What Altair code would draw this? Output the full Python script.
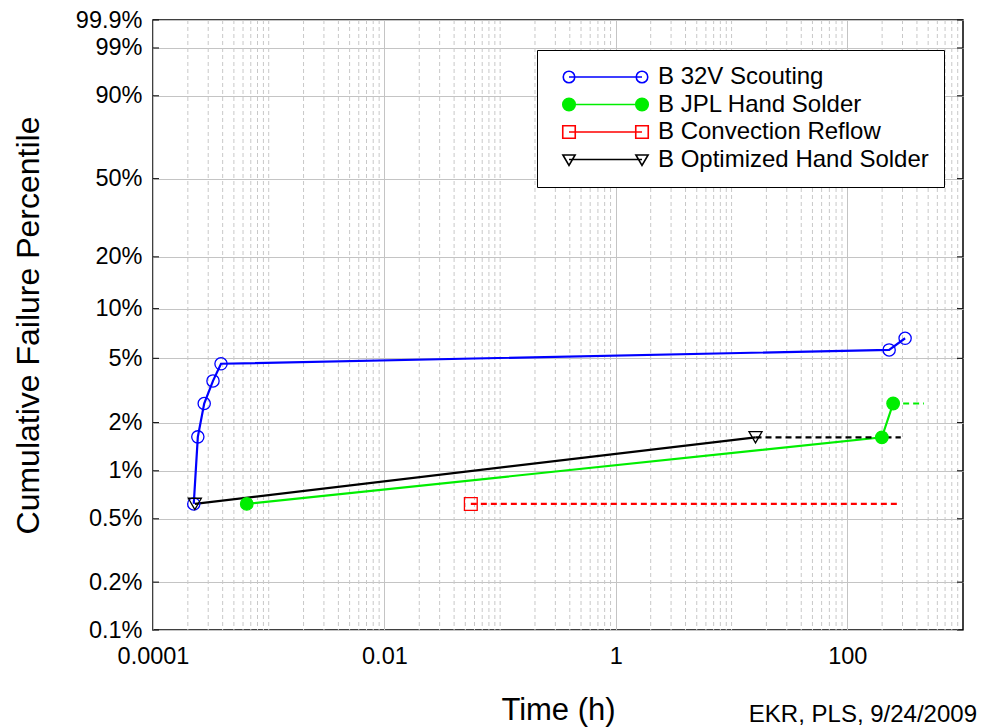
import altair as alt
import numpy as np
import pandas as pd

# ---------------- data ----------------
names = ["B 32V Scouting", "B JPL Hand Solder", "B Convection Reflow", "B Optimized Hand Solder"]
line_colors = ["#0000ff", "#00ee00", "#ff0000", "#000000"]
marker_fills = ["transparent", "#00ee00", "transparent", "transparent"]
marker_shapes = ["circle", "circle", "square", "triangle-down"]
marker_sizes = [150, 170, 170, 160]

# time (h) and cumulative failure percentile (%)
scout_t = [2.25e-4, 2.44e-4, 2.77e-4, 3.30e-4, 3.87e-4, 230, 316]
scout_F = [0.62, 1.63, 2.63, 3.63, 4.63, 5.63, 6.63]

jpl_t = [6.46e-4, 199, 249]
jpl_F = [0.62, 1.62, 2.63]
jpl_ext_t = [249, 460]
jpl_ext_F = [2.63, 2.63]

conv_t = [0.0558]
conv_F = [0.62]
conv_ext_t = [0.0558, 290]
conv_ext_F = [0.62, 0.62]

opt_t = [2.30e-4, 16.1]
opt_F = [0.62, 1.62]
opt_ext_t = [16.1, 290]
opt_ext_F = [1.62, 1.62]

# axes
x_tick_values = [1e-4, 1e-2, 1, 100]
x_domain = [1e-4, 1e3]
y_tick_pct = [0.1, 0.2, 0.5, 1, 2, 5, 10, 20, 50, 90, 99, 99.9]
y_domain_pct = [0.1, 99.9]
note_text = "EKR, PLS, 9/24/2009"

# ---------------- tables ----------------
def rows(name, ts, Fs, kind):
    return [{"series": name, "t": t, "F": f, "kind": kind} for t, f in zip(ts, Fs)]

records = []
records += rows(names[0], scout_t, scout_F, "solid")
records += rows(names[1], jpl_t, jpl_F, "solid")
records += rows(names[1], jpl_ext_t, jpl_ext_F, "dash")
records += rows(names[2], conv_t, conv_F, "solid")
records += rows(names[2], conv_ext_t, conv_ext_F, "dash")
records += rows(names[3], opt_t, opt_F, "solid")
records += rows(names[3], opt_ext_t, opt_ext_F, "dash")
df = pd.DataFrame(records)


def weib(p):
    return float(np.log(-np.log(1 - p / 100.0)))


y_tick_values = [weib(p) for p in y_tick_pct]
y_domain = [weib(p) for p in y_domain_pct]
ytick_df = pd.DataFrame({"W": y_tick_values})

# minor (dashed) x grid: 2..9 of every decade plus the unlabeled decades
minor = []
for k in range(-4, 3):
    for m in range(1, 10):
        v = m * 10.0 ** k
        if m == 1 and k % 2 == 0:
            continue
        minor.append(v)
grid_df = pd.DataFrame({"g": minor})

FONT = "Liberation Sans"
xscale = alt.Scale(type="log", domain=x_domain, nice=False)
yscale = alt.Scale(domain=y_domain, nice=False, zero=False)


def x_axis():
    return alt.Axis(
        values=x_tick_values,
        labelExpr="format(datum.value, '~g')",
        grid=True, gridColor="#c4c4c4", gridWidth=1,
        ticks=False, tickSize=0, domain=False,
        labelPadding=14, labelFontSize=23.5, labelFont=FONT, labelColor="black",
        labelFlush=False, labelOverlap=False,
        title="Time (h)", titleFont=FONT, titleFontSize=31, titleFontWeight="normal",
        titleColor="black", titleY=89, titleBaseline="alphabetic",
    )


def y_axis():
    return alt.Axis(
        values=y_tick_values,
        labelExpr="format(100*(1-exp(-exp(datum.value))), '.3~g') + '%'",
        grid=True, gridColor="#c4c4c4", gridWidth=1,
        ticks=False, tickSize=0, domain=False,
        labelPadding=11, labelFontSize=23.5, labelFont=FONT, labelColor="black",
        labelFlush=False, labelOverlap=False,
        title="Cumulative Failure Percentile", titleFont=FONT, titleFontSize=32,
        titleFontWeight="normal", titleColor="black",
        titleX=-115, titleBaseline="alphabetic",
    )


stroke_scale = alt.Scale(domain=names, range=line_colors)
fill_scale = alt.Scale(domain=names, range=marker_fills)
shape_scale = alt.Scale(domain=names, range=marker_shapes)
size_scale = alt.Scale(domain=names, range=marker_sizes)

Wexpr = "log(-log(1 - datum.F/100))"

grid_layer = alt.Chart(grid_df).mark_rule(
    color="#c8c8c8", strokeWidth=1, strokeDash=[4, 3]
).encode(x=alt.X("g:Q", scale=xscale, axis=x_axis()))

# short inward ticks on the left and right frame
tick_left = alt.Chart(ytick_df).mark_rule(color="black", strokeWidth=1, x2Offset=6).encode(
    x=alt.X(datum=x_domain[0], type="quantitative", scale=xscale, axis=x_axis()),
    x2=alt.X2(datum=x_domain[0]),
    y=alt.Y("W:Q", scale=yscale, axis=y_axis()),
)
tick_right = alt.Chart(ytick_df).mark_rule(color="black", strokeWidth=1, x2Offset=-6).encode(
    x=alt.X(datum=x_domain[1], type="quantitative", scale=xscale, axis=x_axis()),
    x2=alt.X2(datum=x_domain[1]),
    y=alt.Y("W:Q", scale=yscale, axis=y_axis()),
)

base = alt.Chart(df).transform_calculate(W=Wexpr)


def XY():
    return dict(
        x=alt.X("t:Q", scale=xscale, axis=x_axis()),
        y=alt.Y("W:Q", scale=yscale, axis=y_axis()),
    )


solid = base.transform_filter("datum.kind == 'solid'").mark_line(strokeWidth=2.2).encode(
    **XY(),
    stroke=alt.Stroke("series:N", scale=stroke_scale, legend=None),
)

dashed = base.transform_filter("datum.kind == 'dash'").mark_line(
    strokeWidth=2.2, strokeDash=[6, 4]
).encode(
    **XY(),
    stroke=alt.Stroke("series:N", scale=stroke_scale, legend=None),
)

points = base.transform_filter("datum.kind == 'solid'").mark_point(
    opacity=1, strokeWidth=1.3
).encode(
    **XY(),
    stroke=alt.Stroke("series:N", scale=stroke_scale, legend=None),
    fill=alt.Fill("series:N", scale=fill_scale, legend=None),
    shape=alt.Shape("series:N", scale=shape_scale, legend=None),
    size=alt.Size("series:N", scale=size_scale, legend=None),
)


# legend symbols: a line with a marker at both ends (unit path, scaled by symbolSize)
def circ(cx, r=1.15):
    return f"M{cx - r},0A{r},{r} 0 1,0 {cx + r},0A{r},{r} 0 1,0 {cx - r},0Z"


def sq(cx, h=1.25):
    return f"M{cx - h},{-h}H{cx + h}V{h}H{cx - h}Z"


def tri(cx, h=1.22):
    return f"M{cx - h},-0.9H{cx + h}L{cx},1.2Z"


SP = 14.6
legend_paths = [
    f"M0,0H{SP}" + circ(0) + circ(SP),
    f"M0,0H{SP}" + circ(0, 1.25) + circ(SP, 1.25),
    f"M0,0H{SP}" + sq(0) + sq(SP),
    f"M0,0H{SP}" + tri(0) + tri(SP),
]
legend_cfg = dict(
    title=None, orient="none", legendX=384, legendY=30, padding=15,
    fillColor="white", strokeColor="black", cornerRadius=0,
    labelFont=FONT, labelFontSize=24, labelColor="black", labelLimit=500,
    symbolSize=100, symbolStrokeWidth=1.6, symbolOffset=5, labelOffset=77,
    rowPadding=3.5, symbolOpacity=1,
)
leg = base.transform_filter("datum.kind == 'solid'").mark_point(opacity=0).encode(
    **XY(),
    stroke=alt.Stroke("series:N", scale=stroke_scale, legend=alt.Legend(**legend_cfg)),
    fill=alt.Fill("series:N", scale=fill_scale, legend=alt.Legend(**legend_cfg)),
    shape=alt.Shape("series:N", scale=alt.Scale(domain=names, range=legend_paths),
                    legend=alt.Legend(**legend_cfg)),
)

chart = (
    alt.layer(grid_layer, tick_left, tick_right, solid, dashed, points, leg)
    .resolve_scale(stroke="independent", fill="independent", shape="independent", size="independent")
    .properties(
        width=810, height=610,
        autosize=alt.AutoSizeParams(type="none"),
        padding={"left": 145, "top": 12, "right": 16, "bottom": 97},
        title=alt.Title(note_text, orient="bottom", anchor="end", frame="group",
                        offset=-22, dx=14, font=FONT, fontSize=24, fontWeight="normal",
                        color="black"),
        background="white",
    )
    .configure_view(stroke="black", strokeWidth=1.5)
    .configure_legend(strokeWidth=1)
)

chart.save("out.html", embed_options={"renderer": "svg", "actions": False})
